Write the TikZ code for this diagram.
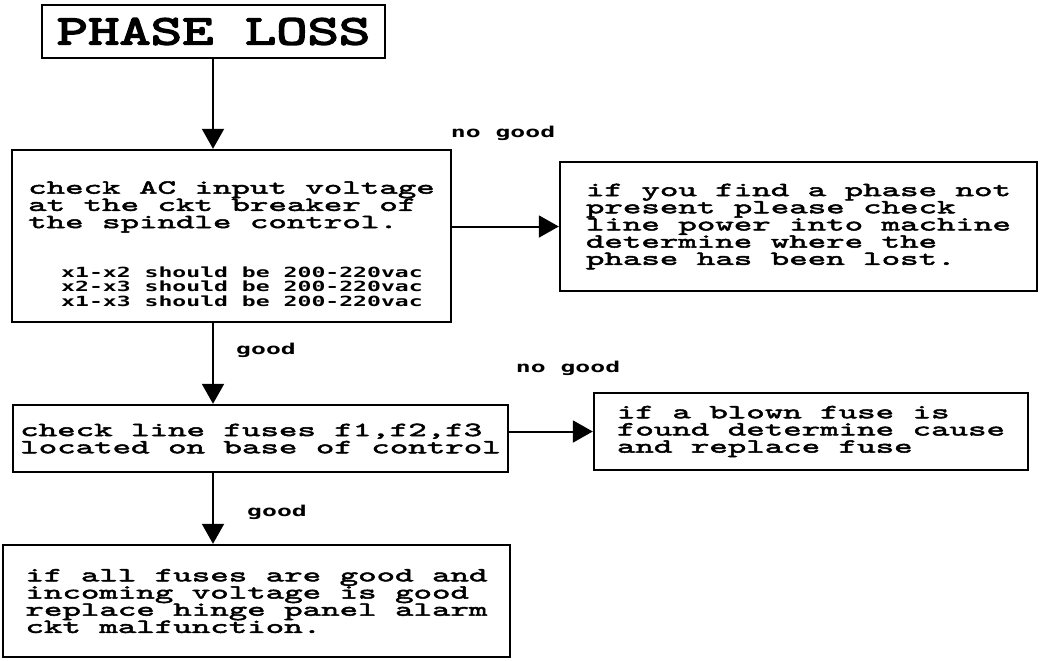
\documentclass[tikz,border=0pt]{standalone}
\usepackage{fontspec}
\usetikzlibrary{arrows.meta, positioning, calc}
\newfontfamily\headfont{Latin Modern Mono}[FakeStretch=1.45, FakeBold=4]
\newfontfamily\boxfont{Latin Modern Mono}[FakeStretch=1.76, FakeBold=2.5]
\newfontfamily\smallfont{DejaVu Sans Mono Bold}[FakeStretch=1.65]
\newcommand{\vacline}[1]{\hspace*{16.5pt}{\smallfont\fontsize{7pt}{7pt}\selectfont #1}}
\tikzset{
    titlebox/.style={rectangle, draw, line width=1.3pt, inner sep=0pt, font={\headfont\fontsize{21pt}{22pt}\selectfont}},
    stepbox/.style={rectangle, draw, line width=1.2pt, inner sep=0pt, align=left, font={\boxfont\fontsize{10pt}{8.6pt}\selectfont\lineskiplimit=-20pt}},
    edgetext/.style={inner sep=0pt, font={\smallfont\fontsize{7.5pt}{8pt}\selectfont}},
    arrow/.style={line width=1pt, -{Triangle[length=10pt, width=11pt]}}
}
\begin{document}
\begin{tikzpicture}[x=0.5pt, y=-0.5pt]
    \useasboundingbox (0,0) rectangle (1043,660);
    \node[titlebox, minimum width=171.5pt, minimum height=26.5pt] (title) at (213.5,31.5) {PHASE LOSS};
    \node[stepbox, minimum width=219.5pt, minimum height=86pt] (acin) at (231.5,236) {\rule{0pt}{14pt}check AC input voltage\\at the ckt breaker of\\the spindle control.\\[16pt]\vacline{x1-x2 should be 200-220vac}\\[-1.4pt]\vacline{x2-x3 should be 200-220vac}\\[-1.4pt]\vacline{x1-x3 should be 200-220vac}};
    \node[stepbox, minimum width=238.5pt, minimum height=64.5pt] (phase) at (798.5,226.5) {if you find a phase not\\present please check\\line power into machine\\determine where the\\phase has been lost.};
    \node[stepbox, minimum width=247.5pt, minimum height=33.5pt] (fuses) at (260.5,438.5) {check line fuses f1,f2,f3\\located on base of control};
    \node[stepbox, minimum width=217pt, minimum height=38.5pt] (blown) at (811,431.5) {if a blown fuse is\\found determine cause\\and replace fuse};
    \node[stepbox, minimum width=253.5pt, minimum height=56pt] (allgood) at (256.5,601) {if all fuses are good and\\incoming voltage is good\\replace hinge panel alarm\\ckt malfunction.};

    % branch labels
    \node[edgetext] (nogoodA) at (503,133) {no good};
    \node[edgetext] (goodA) at (266,350) {good};
    \node[edgetext] (nogoodB) at (568,368) {no good};
    \node[edgetext] (goodB) at (277,512) {good};

    \coordinate (spine) at (213,0);
    \draw[arrow] (spine |- title.south) -- (spine |- acin.north);
    \draw[arrow] (acin.east |- phase.west) -- (phase.west);
    \draw[arrow] (spine |- acin.south) -- (spine |- fuses.north);
    \draw[arrow] (fuses.east |- blown.west) -- (blown.west);
    \draw[arrow] (spine |- fuses.south) -- (spine |- allgood.north);
\end{tikzpicture}
\end{document}
